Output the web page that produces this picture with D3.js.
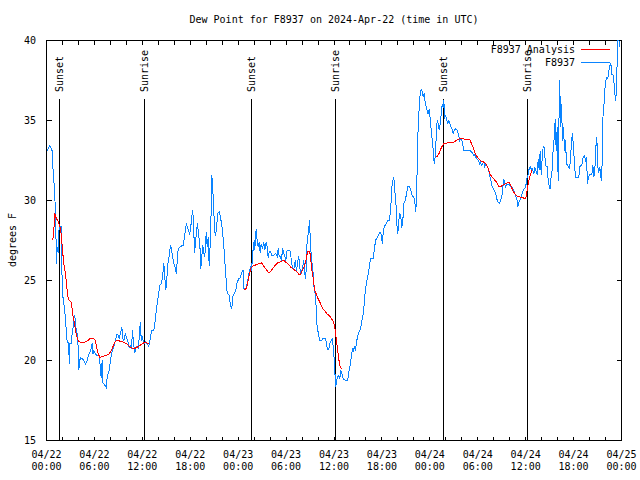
<!DOCTYPE html>
<html><head><meta charset="utf-8">
<script src="https://cdn.jsdelivr.net/npm/d3@7"></script>
<style>
body{margin:0;background:#fff;}
text{font-family:"DejaVu Sans Mono",monospace;font-size:10px;fill:#000;}
</style></head>
<body><svg id="c" width="640" height="480"></svg>
<script>
// hours since 2024-04-22 00:00 UTC
const xTickHours = [0,6,12,18,24,30,36,42,48,54,60,66,72];
const xTickDates = ["04/22","04/22","04/22","04/22","04/23","04/23","04/23","04/23","04/24","04/24","04/24","04/24","04/25"];
const xTickTimes = ["00:00","06:00","12:00","18:00","00:00","06:00","12:00","18:00","00:00","06:00","12:00","18:00","00:00"];
const yTicks = [15,20,25,30,35,40];
const sunEvents = [[1.67,"Sunset"],[12.31,"Sunrise"],[25.71,"Sunset"],[36.23,"Sunrise"],[49.75,"Sunset"],[60.23,"Sunrise"]];
const legendLabels = ["F8937 Analysis","F8937"];

const observed = [
[0.09,33.1],[0.41,33.44],[0.71,33.1],[0.84,31.7],[1.00,30.7],[1.13,29.2],[1.25,26.06],[1.34,27.1],[1.47,26.7],[1.54,28.1],[1.67,28.4],[1.84,28.4],[1.88,26.7],[1.97,24.8],[2.09,23.75],[2.25,23.3],[2.38,22.6],[2.50,21.7],[2.59,21.15],[2.79,21.15],[2.84,19.8],[2.92,21.06],[3.09,21.06],[3.22,21.7],[3.34,22.1],[3.42,22.7],[3.54,22.8],[3.67,22.1],[3.84,21.7],[3.97,20.8],[4.04,19.4],[4.17,20],[4.26,20.2],[4.47,20.1],[4.67,20.0],[4.88,19.8],[5.10,20],[5.30,20.4],[5.51,20.6],[5.72,21.06],[5.80,20.4],[5.92,20.6],[6.14,20.4],[6.35,20.3],[6.55,20.4],[6.67,20],[6.76,19.4],[6.85,18.9],[6.97,20],[7.05,18.6],[7.26,18.5],[7.48,18.3],[7.60,19.0],[7.73,19.2],[7.85,19.4],[8.01,20],[8.23,20.6],[8.43,20.9],[8.64,21.25],[8.77,21.6],[8.93,21.6],[9.10,21.4],[9.27,21.7],[9.43,22.1],[9.55,21.4],[9.68,21.25],[9.89,21.7],[10.02,21.4],[10.18,21.25],[10.36,20.8],[10.52,20.9],[10.64,20.75],[10.77,21.9],[10.89,21.06],[11.06,20.5],[11.18,20.8],[11.36,20.9],[11.52,20.8],[11.68,22],[11.77,22.4],[11.86,21.25],[12.02,21.45],[12.18,21.06],[12.40,21.15],[12.61,21.06],[12.81,20.9],[13.02,21.45],[13.15,21.9],[13.44,21.9],[13.56,22.3],[13.69,22.9],[13.86,23.56],[14.06,24.2],[14.19,24.7],[14.36,24.8],[14.53,25.2],[14.69,26.06],[14.81,25.2],[14.94,24.4],[15.11,25.4],[15.24,26.25],[15.36,26.5],[15.53,27.2],[15.65,27],[15.78,26.5],[15.94,26.06],[16.12,25.8],[16.28,25.4],[16.37,26.25],[16.49,27],[16.78,27.1],[16.99,27.2],[17.12,27.2],[17.28,27.7],[17.41,28.25],[17.53,28.56],[17.66,28.3],[17.78,28.1],[17.94,27.9],[18.03,28.25],[18.16,28.75],[18.28,29.4],[18.41,28.75],[18.53,26.7],[18.66,27.3],[18.78,28.1],[18.91,28.6],[19.03,27.9],[19.20,27.3],[19.32,25.7],[19.45,26.5],[19.57,27.2],[19.70,26.7],[19.82,26.5],[20.00,28.0],[20.12,27.1],[20.25,27.7],[20.37,25.9],[20.50,27.3],[20.62,29.4],[20.70,31.6],[20.82,30.7],[20.95,29.4],[21.04,28.1],[21.16,27.8],[21.29,28.3],[21.45,29.2],[21.63,29.3],[21.79,28.96],[22.00,28.25],[22.20,27.2],[22.41,25.6],[22.63,24.2],[22.88,24.06],[23.04,23.4],[23.20,23.25],[23.33,24],[23.54,24.2],[23.70,24.4],[23.88,24.9],[24.08,25.1],[24.29,25.2],[24.51,25.6],[24.63,25.6],[24.71,24.5],[24.92,24.5],[25.04,24.6],[25.21,25],[25.38,25.5],[25.55,25.9],[25.67,25.6],[25.76,26.25],[25.88,27],[26.01,27.5],[26.08,26.9],[26.17,27.7],[26.26,28.2],[26.38,27.5],[26.51,27.1],[26.63,27.4],[26.76,26.7],[26.88,27.3],[27.05,27],[27.21,27.4],[27.34,26.9],[27.51,27.4],[27.64,27.1],[27.76,26.4],[27.89,26.8],[28.05,26.8],[28.21,26.56],[28.46,26.56],[28.68,26.7],[28.89,26.5],[29.01,27],[29.14,26.5],[29.30,26.5],[29.43,26.25],[29.55,27],[29.71,26.7],[29.84,26.5],[29.96,26.25],[30.14,26.9],[30.34,26.9],[30.55,26.8],[30.68,26.1],[30.80,25.8],[30.97,25.7],[31.14,26.25],[31.31,25.6],[31.47,26.25],[31.59,26.5],[31.72,25.8],[31.89,25.4],[32.06,25.8],[32.22,26.25],[32.34,25.4],[32.47,25.1],[32.56,26.5],[32.64,27.5],[32.72,27.7],[32.85,28.3],[32.93,28.8],[33.02,27.7],[33.15,26.5],[33.31,25.8],[33.40,25.4],[33.52,24.4],[33.65,24.2],[33.77,23.3],[33.90,21.9],[34.02,21.8],[34.19,21.25],[34.44,21.25],[34.56,21.35],[34.81,21.35],[34.94,21.35],[35.06,21.05],[35.19,20.7],[35.35,20.7],[35.48,21.05],[35.65,21.25],[35.78,21.35],[35.90,20.9],[36.03,20],[36.10,19.2],[36.19,18.96],[36.23,18.33],[36.31,18.75],[36.44,18.96],[36.60,19.06],[36.73,18.85],[36.85,19.4],[36.98,19.2],[37.15,18.85],[37.32,18.8],[37.48,18.75],[37.65,18.75],[37.78,18.96],[37.90,19.4],[38.07,19.8],[38.19,20.4],[38.32,20.7],[38.44,20.6],[38.57,20.9],[38.69,20.6],[38.82,21.15],[38.98,21.56],[39.16,21.8],[39.32,22],[39.69,23],[39.94,24.5],[40.32,25.5],[40.57,26.35],[40.91,26.35],[41.07,27],[41.20,27.5],[41.41,27.7],[41.61,27.9],[41.74,28],[41.92,27.9],[42.04,27.3],[42.16,28],[42.32,28.4],[42.57,28.55],[42.74,28.75],[42.91,28.75],[43.08,29.3],[43.24,30.8],[43.36,31.25],[43.49,31.45],[43.61,30.6],[43.74,30],[43.86,28.55],[43.99,27.9],[44.11,28.75],[44.24,29.2],[44.37,28.96],[44.49,28.3],[44.62,28.75],[44.74,29.8],[44.87,29.9],[45.08,30.4],[45.24,30.9],[45.42,30.9],[45.58,30.7],[45.79,30.3],[45.99,30.2],[46.12,29.9],[46.24,29.3],[46.33,30.2],[46.42,32.1],[46.49,33.95],[46.62,35.4],[46.74,36.45],[46.92,36.98],[47.04,36.8],[47.17,36.45],[47.29,36.7],[47.42,36.1],[47.54,35.9],[47.67,35.6],[47.79,35.4],[47.92,35.7],[48.05,35.1],[48.17,34.4],[48.30,33.75],[48.42,33.2],[48.55,32.3],[48.67,32.7],[48.80,33.95],[48.92,35],[49.05,34.8],[49.17,34.4],[49.30,34.8],[49.42,35.4],[49.55,36.05],[49.67,35.8],[49.75,36.25],[49.88,35.2],[50.00,35.3],[50.13,35],[50.25,34.8],[50.38,35],[50.50,34.8],[50.63,34.6],[50.75,34.5],[50.93,34.2],[51.09,34.4],[51.25,34.5],[51.43,34.4],[51.63,34.06],[51.75,33.75],[51.93,33.85],[52.09,33.65],[52.25,33.1],[52.47,33.1],[52.68,33.1],[52.88,33.1],[53.09,33.1],[53.31,33.0],[53.51,32.8],[53.63,32.9],[53.76,32.7],[53.93,32.6],[54.10,32.5],[54.22,32.3],[54.35,32.4],[54.47,32.2],[54.60,32.3],[54.76,32.4],[54.88,32.1],[55.01,32.3],[55.19,32.1],[55.35,32],[55.47,31.6],[55.60,31.35],[55.72,31.05],[55.85,30.8],[56.01,30.7],[56.19,30.5],[56.31,30.3],[56.44,30],[56.56,29.9],[56.73,29.8],[56.85,30],[56.98,30.2],[57.10,30.5],[57.23,31.35],[57.35,31.15],[57.48,30.8],[57.60,31.05],[57.76,31.0],[57.94,31.0],[58.10,30.9],[58.31,30.8],[58.51,30.6],[58.69,30.4],[58.81,30.2],[58.94,30],[59.02,29.6],[59.14,29.9],[59.27,30],[59.44,30.2],[59.61,30.5],[59.77,30.7],[59.94,30.8],[60.07,31.05],[60.19,31.45],[60.32,31.65],[60.44,32],[60.61,32.1],[60.73,31.9],[60.86,32],[61.02,31.65],[61.14,32.1],[61.27,31.9],[61.44,31.6],[61.57,32.6],[61.69,31.9],[61.82,33.1],[61.95,31.6],[62.07,32.7],[62.20,33.4],[62.32,33.3],[62.45,32.5],[62.57,32.1],[62.70,32.1],[62.82,31.25],[62.95,30.9],[63.07,30.7],[63.20,31.6],[63.32,31.9],[63.45,33.3],[63.57,33.85],[63.70,35.1],[63.82,33.1],[63.95,34.6],[64.07,31.25],[64.20,36.05],[64.27,37.5],[64.36,34.6],[64.49,36.05],[64.61,33.75],[64.74,34.6],[64.86,33.1],[64.99,33.75],[65.11,32.3],[65.24,32.2],[65.36,32.1],[65.49,32],[65.61,32.5],[65.74,33.75],[65.86,34.2],[65.99,33.3],[66.11,32.3],[66.24,31.45],[66.45,31.45],[66.65,31.45],[66.78,32.1],[66.95,32.2],[67.08,32.3],[67.20,32.7],[67.37,32.8],[67.49,32.5],[67.62,32.7],[67.74,31.05],[67.87,31.45],[67.99,31.6],[68.12,31.65],[68.28,31.6],[68.41,32.2],[68.53,31.45],[68.66,31.9],[68.78,33.3],[68.91,33.95],[69.03,32.1],[69.16,31.75],[69.28,32.1],[69.41,31.45],[69.53,31.25],[69.66,35.1],[69.78,35.8],[69.91,36.9],[70.03,37.5],[70.16,37.7],[70.29,37.6],[70.41,38.1],[70.54,38.4],[70.66,38.6],[70.79,37.9],[70.91,37.9],[71.04,37.5],[71.16,36.7],[71.29,36.25],[71.38,37.3],[71.46,38.75],[71.56,40],[71.68,40],[71.81,39.6]
];

const analysisNight1 = [
[0.79,27.5],[0.91,28.1],[1.04,29.2],[1.21,28.9],[1.41,28.75],[1.54,28.55],[1.75,28.3],[1.88,27.7],[2.00,26.9],[2.17,26.05],[2.38,25.4],[2.50,24.8],[2.67,24],[2.84,23.75],[3.09,23.65],[3.22,23.2],[3.34,22.7],[3.51,22.3],[3.63,21.9],[3.76,21.56],[3.88,21.35],[4.04,21.2],[4.26,21.15],[4.67,21.1],[5.01,21.2],[5.30,21.3],[5.51,21.4],[5.85,21.4],[6.05,21.3],[6.26,20.9],[6.42,20.5],[6.67,20.2],[6.97,20.25],[7.39,20.3],[7.80,20.4],[8.10,20.6],[8.35,20.9],[8.64,21.2],[8.93,21.25],[9.27,21.2],[9.68,21.15],[10.02,21.05],[10.31,20.9],[10.61,20.8],[10.93,20.75],[11.27,20.8],[11.56,20.9],[11.86,21],[12.18,21.1],[12.52,21.1],[12.81,21.05]
];
const analysisNight2 = [
[24.71,24.4],[25.04,24.5],[25.25,25],[25.46,25.5],[25.63,25.8],[25.88,25.9],[26.30,26],[26.63,26.05],[26.92,26.1],[27.21,25.9],[27.51,25.7],[27.76,25.5],[27.96,25.5],[28.26,25.7],[28.55,25.9],[28.96,26.1],[29.39,26.2],[29.71,26.25],[29.96,26.15],[30.34,26],[30.64,25.8],[30.97,25.7],[31.31,25.55],[31.59,25.4],[31.81,25.4],[32.02,25.6],[32.22,25.8],[32.43,26.15],[32.56,26.45],[32.68,26.8],[32.85,26.8],[32.97,26.8],[33.10,26.25],[33.22,25.7],[33.35,25.3],[33.47,24.8],[33.60,24.4],[33.81,24.1],[34.02,23.85],[34.22,23.65],[34.44,23.4],[34.65,23.2],[34.85,23.1],[35.15,22.9],[35.44,22.8],[35.69,22.6],[35.90,22.45],[36.06,22.2],[36.19,21.7],[36.31,21.25],[36.44,20.7],[36.56,20.2],[36.73,19.7],[36.90,19.5],[37.03,19.5]
];
const analysisNight3 = [
[48.84,32.7],[49.12,32.9],[49.34,33.2],[49.55,33.4],[49.75,33.55],[50.18,33.6],[50.59,33.65],[51.00,33.65],[51.43,33.8],[51.84,33.9],[52.25,33.85],[52.68,33.8],[53.00,33.8],[53.22,33.55],[53.43,33.3],[53.63,33.0],[53.84,32.8],[54.13,32.6],[54.43,32.45],[54.76,32.4],[55.10,32.25],[55.31,32],[55.51,31.7],[55.72,31.5],[56.01,31.35],[56.35,31.15],[56.64,30.9],[56.94,30.9],[57.27,31.0],[57.69,31.1],[57.98,31.1],[58.19,30.9],[58.39,30.6],[58.60,30.45],[58.85,30.3],[59.14,30.25],[59.44,30.2],[59.77,30.15],[60.02,30.15],[60.14,30.5],[60.27,30.9],[60.44,31.35],[60.61,31.65],[60.77,31.9]
];

const BLUE = "#0a84ff", RED = "#ff0000";
const svg = d3.select("#c");
const L = 46.5, R = 621.5, T = 40.5, B = 440.5;
const x = d3.scaleLinear().domain([0,72]).range([L,R]);
const y = d3.scaleLinear().domain([15,40]).range([B,T]);

svg.append("text").attr("x",(L+R)/2).attr("y",23).attr("text-anchor","middle")
  .text("Dew Point for F8937 on 2024-Apr-22 (time in UTC)");

svg.append("text").attr("transform","translate(16,240) rotate(-90)").attr("text-anchor","middle")
  .text("degrees F");

svg.append("rect").attr("x",L).attr("y",T).attr("width",R-L).attr("height",B-T)
  .attr("fill","none").attr("stroke","#000").attr("shape-rendering","crispEdges");

const minor = d3.range(0,73,2);
const g = svg.append("g").attr("stroke","#000").attr("shape-rendering","crispEdges");
minor.forEach(h=>{
  const xx = Math.round(x(h)-0.5)+0.5;
  g.append("line").attr("x1",xx).attr("x2",xx).attr("y1",B).attr("y2",B-4);
  g.append("line").attr("x1",xx).attr("x2",xx).attr("y1",T).attr("y2",T+4);
});
yTicks.forEach(v=>{
  const yy = Math.round(y(v)-0.5)+0.5;
  g.append("line").attr("x1",L).attr("x2",L+5).attr("y1",yy).attr("y2",yy);
  g.append("line").attr("x1",R).attr("x2",R-5).attr("y1",yy).attr("y2",yy);
});
xTickHours.forEach((h,i)=>{
  svg.append("text").attr("x",x(h)).attr("y",458).attr("text-anchor","middle").text(xTickDates[i]);
  svg.append("text").attr("x",x(h)).attr("y",470).attr("text-anchor","middle").text(xTickTimes[i]);
});
yTicks.forEach(v=>{
  svg.append("text").attr("x",36).attr("y",y(v)).attr("dy","0.35em").attr("text-anchor","end").text(v);
});

sunEvents.forEach(([h,lab])=>{
  const xx = Math.round(x(h)-0.5)+0.5;
  svg.append("line").attr("x1",xx).attr("x2",xx).attr("y1",B).attr("y2",99)
    .attr("stroke","#000").attr("shape-rendering","crispEdges");
  svg.append("text").attr("transform",`translate(${xx},92) rotate(-90)`).attr("dy","0.35em").text(lab);
});

const line = d3.line().x(d=>x(d[0])).y(d=>y(d[1]));
svg.append("clipPath").attr("id","pc").append("rect").attr("x",L).attr("y",T-1).attr("width",R-L).attr("height",B-T+1);
const plot = svg.append("g").attr("clip-path","url(#pc)");
plot.append("path").datum(observed).attr("d",line).attr("fill","none").attr("stroke",BLUE)
  .attr("stroke-width",1).attr("shape-rendering","crispEdges");
[analysisNight1,analysisNight2,analysisNight3].forEach(seg=>{
  plot.append("path").datum(seg).attr("d",line).attr("fill","none").attr("stroke",RED)
    .attr("stroke-width",1).attr("shape-rendering","crispEdges");
});

const lg = [[legendLabels[0],RED,53],[legendLabels[1],BLUE,66]];
lg.forEach(([t,c,yy])=>{
  svg.append("text").attr("x",575).attr("y",yy).attr("text-anchor","end").text(t);
  svg.append("line").attr("x1",581).attr("x2",610).attr("y1",yy-3.5).attr("y2",yy-3.5)
    .attr("stroke",c).attr("stroke-width",1).attr("shape-rendering","crispEdges");
});
</script></body></html>
